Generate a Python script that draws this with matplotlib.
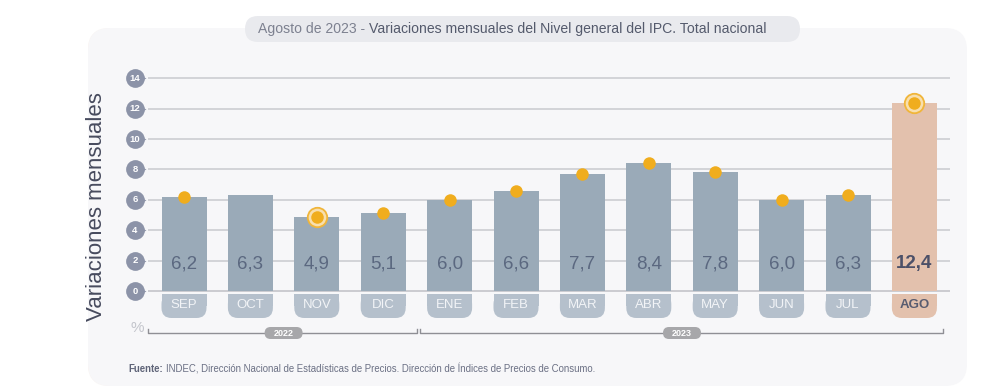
import matplotlib
matplotlib.use("Agg")
import matplotlib.pyplot as plt
import numpy as np
from matplotlib.patches import FancyBboxPatch, Rectangle
from matplotlib.transforms import Affine2D
from matplotlib.colors import LinearSegmentedColormap

# ---- data ----
months = ["SEP", "OCT", "NOV", "DIC", "ENE", "FEB", "MAR", "ABR", "MAY", "JUN", "JUL", "AGO"]
values = [6.2, 6.3, 4.9, 5.1, 6.0, 6.6, 7.7, 8.4, 7.8, 6.0, 6.3, 12.4]
value_labels = ["6,2", "6,3", "4,9", "5,1", "6,0", "6,6", "7,7", "8,4", "7,8", "6,0", "6,3", "12,4"]
dot_shown = [True, False, True, True, True, True, True, True, True, True, True, True]
dot_ringed = [False, False, True, False, False, False, False, False, False, False, False, True]
years = ["2022", "2023"]
year_groups = [(0, 3), (4, 11)]
yticks = [0, 2, 4, 6, 8, 10, 12, 14]
highlight = 11

plt.rcParams['font.family'] = ['Liberation Sans', 'DejaVu Sans']

W, H = 1000, 392
fig = plt.figure(figsize=(W / 100, H / 100), dpi=100)
fig.patch.set_facecolor("white")

# pixel transform: image pixel coords, y down
pix = Affine2D().scale(1 / 100, -1 / 100).translate(0, H / 100) + fig.dpi_scale_trans

# card background
card = FancyBboxPatch((88, 28), 879, 358, boxstyle="round,pad=0,rounding_size=22",
                      transform=pix, facecolor="#f7f7f9", edgecolor="none", zorder=0)
fig.patches.append(card)
grad = np.linspace(0, 1, 60).reshape(1, -1)
bg_ax = fig.add_axes([0, 0, 1, 1], zorder=0)
bg_ax.set_xlim(0, W); bg_ax.set_ylim(H, 0); bg_ax.axis("off")
bg_ax.patch.set_alpha(0)
cm = LinearSegmentedColormap.from_list("p", ["#fdeee6", "#f7f7f9"])
im = bg_ax.imshow(grad, cmap=cm, extent=(88, 122, 386, 28), aspect="auto", zorder=1)
clipbox = FancyBboxPatch((88, 28), 879, 358, boxstyle="round,pad=0,rounding_size=22",
                         transform=bg_ax.transData, facecolor="none", edgecolor="none")
bg_ax.add_patch(clipbox)
im.set_clip_path(clipbox)

# title pill
pill = FancyBboxPatch((245, 16), 555, 26, boxstyle="round,pad=0,rounding_size=13",
                      transform=pix, facecolor="#e9eaee", edgecolor="none", zorder=2)
fig.patches.append(pill)
t1 = fig.text(258, 29, "Agosto de 2023 -", transform=pix, fontsize=10.1, color="#7d8190",
              va="center", ha="left", zorder=3)
fig.canvas.draw()
r = fig.canvas.get_renderer()
e1 = t1.get_window_extent(r)
fig.text(e1.x1 + 4, H - 29, "Variaciones mensuales del Nivel general del IPC. Total nacional",
         transform=None, fontsize=10.1, color="#545a6c", va="center", ha="left", zorder=3)

# main axes in data coordinates
ax = fig.add_axes([0, 0, 1, 1], zorder=2)
ax.patch.set_alpha(0)
ax.axis("off")
x0px, dxpx = 184, 66.4
y0px, dypx = 291, 15.2
ax.set_xlim(-x0px / dxpx, (W - x0px) / dxpx)
ax.set_ylim(-(H - y0px) / dypx, y0px / dypx)
asp = (1 / dypx) / (1 / dxpx)

x = np.arange(len(values))
bw = 45 / dxpx
gx0, gx1 = (148 - x0px) / dxpx, (950 - x0px) / dxpx
for t in yticks:
    ax.plot([gx0, gx1], [t, t], color="#c9cacf" if t else "#bfc0c6", lw=1.1, zorder=1,
            solid_capstyle="butt")
# tick badges
tx = (135 - x0px) / dxpx
for t in yticks:
    ax.plot([tx + 5 / dxpx], [t], marker=">", ms=9, color="#8c93a8", mec="none", zorder=3)
    ax.plot([tx], [t], marker="o", ms=13.5, color="#8c93a8", mec="none", zorder=3)
    ax.text(tx, t, str(t), color="white", fontsize=6.8, fontweight="bold", ha="center",
            va="center", zorder=4)

colors = ["#9aaab8"] * len(values)
colors[highlight] = "#e3c1ad"
ax.bar(x, values, width=bw, color=colors, zorder=2)

# value labels
for i, lab in enumerate(value_labels):
    if i == highlight:
        ax.text(i, 1.8, lab, ha="center", va="center", fontsize=13.5, color="#4c5068",
                fontweight="bold", zorder=4)
    else:
        ax.text(i, 1.8, lab, ha="center", va="center", fontsize=13.5, color="#5b6880", zorder=4)

# month tabs
tab_top = -0.2
tab_bot = -(318 - y0px) / dypx
rs = 10 / dxpx
for i, m in enumerate(months):
    c = "#e3c1ad" if i == highlight else "#b5c0cc"
    ax.add_patch(FancyBboxPatch((i - bw / 2, tab_bot), bw, tab_top - tab_bot,
                                boxstyle=f"round,pad=0,rounding_size={rs}", mutation_aspect=asp,
                                facecolor=c, edgecolor="none", zorder=2))
    ax.add_patch(Rectangle((i - bw / 2, (tab_top + tab_bot) / 2), bw, (tab_top - tab_bot) / 2,
                           facecolor=c, edgecolor="none", zorder=2))
    if i == highlight:
        ax.text(i, (tab_top + tab_bot) / 2 + 0.05, m, ha="center", va="center", fontsize=9.5,
                color="#585c70", fontweight="bold", zorder=4)
    else:
        ax.text(i, (tab_top + tab_bot) / 2 + 0.05, m, ha="center", va="center", fontsize=9.5,
                color="#f2f4f7", zorder=4)

# dots
for i, v in enumerate(values):
    if not dot_shown[i]:
        continue
    if dot_ringed[i]:
        ax.plot([i], [v], marker="o", ms=14, mfc="#f8dfae", mec="#f0b53a", mew=1.3, zorder=5)
    ax.plot([i], [v], marker="o", ms=9, color="#f0ad1e", mec="none", zorder=6)

# year brackets
yb = -(333 - y0px) / dypx
tick_h = 4 / dypx
br_bounds = [((148 - x0px) / dxpx, (417 - x0px) / dxpx), ((420 - x0px) / dxpx, (943 - x0px) / dxpx)]
for (a, b), yr, (g0, g1) in zip(br_bounds, years, year_groups):
    ax.plot([a, a, b, b], [yb + tick_h, yb, yb, yb + tick_h], color="#8f8f95", lw=1.0, zorder=2)
    cx = (g0 + g1) / 2
    ax.add_patch(FancyBboxPatch((cx - 19 / dxpx, yb - 6 / dypx), 38 / dxpx, 12 / dypx,
                                boxstyle=f"round,pad=0,rounding_size={6 / dxpx}",
                                mutation_aspect=asp, facecolor="#a7a7aa", edgecolor="none",
                                zorder=3))
    ax.text(cx, yb, yr, ha="center", va="center", fontsize=6.5, color="white",
            fontweight="bold", zorder=4)

# % sign
fig.text(137, 328, "%", transform=pix, fontsize=11, color="#c3c5cc", ha="center", va="center",
         zorder=5)

# y label
fig.text(97, 207, "Variaciones mensuales", transform=pix, rotation=90, fontsize=16,
         color="#474b5e", ha="center", va="center", zorder=5)

# footer
f1 = fig.text(128, 369, "Fuente:", transform=pix, fontsize=6.9, color="#5f6478",
              fontweight="bold", ha="left", va="center", zorder=5)
fig.canvas.draw()
ef = f1.get_window_extent(fig.canvas.get_renderer())
fig.text(ef.x1 + 3, H - 369,
         "INDEC, Dirección Nacional de Estadísticas de Precios. Dirección de Índices de Precios de Consumo.",
         transform=None, fontsize=6.9, color="#6b7084", ha="left", va="center", zorder=5)

fig.savefig("out.png", dpi=100, facecolor="white")
